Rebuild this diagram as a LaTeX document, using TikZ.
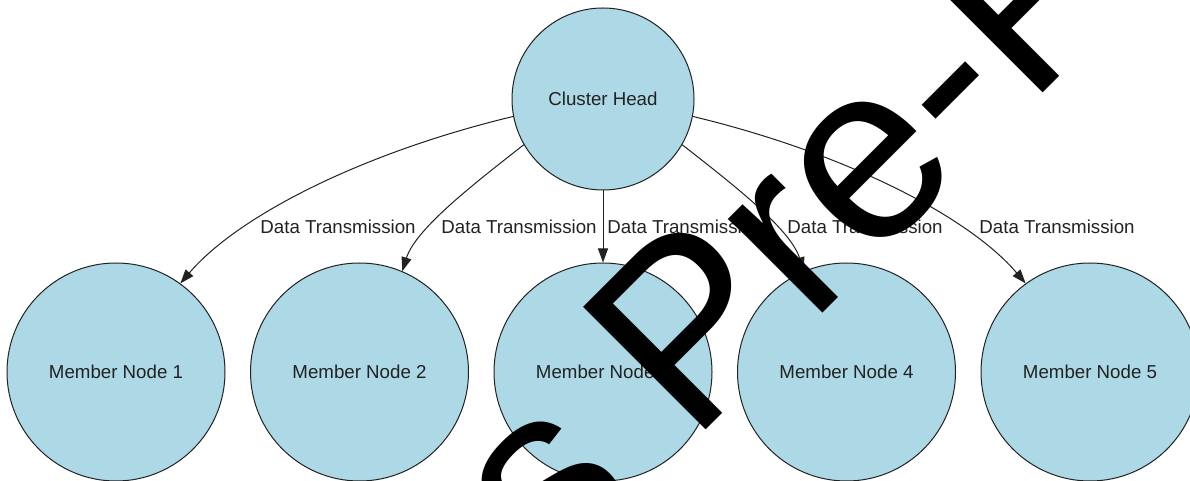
\documentclass[tikz,border=0pt]{standalone}
\usepackage{fontspec}
\setmainfont{Liberation Sans}
\usetikzlibrary{arrows.meta}
\definecolor{nodeblue}{HTML}{ADD8E6}
\definecolor{ink}{HTML}{222222}
\begin{document}
\begin{tikzpicture}[x=1pt,y=1pt,
  member/.style={circle, draw=ink, line width=1pt, fill=nodeblue,
    minimum size=218pt, inner sep=0pt,
    font=\fontsize{18.7}{22}\selectfont, text=ink},
  head/.style={member, minimum size=182pt},
  flow/.style={draw=ink, line width=1pt, -{Triangle[length=14pt,width=10pt]}},
  lbl/.style={inner sep=0pt, font=\fontsize{18.7}{22}\selectfont, text=ink},
  stamp/.style={rotate=45, anchor=base west, inner sep=0pt,
    font=\fontsize{252}{252}\selectfont, text=black}]
\useasboundingbox (0,0) rectangle (1190,481);
\clip (0,0) rectangle (1190,481);
\fill[white] (0,0) rectangle (1190,481);

% cluster head and its members
\node[head] (ch) at (603,382) {Cluster Head};
\node[member] (m1) at (116,109) {Member Node 1};
\node[member] (m2) at (359.5,109) {Member Node 2};
\node[member] (m3) at (603,109) {Member Node 3};
\node[member] (m4) at (846.5,109) {Member Node 4};
\node[member] (m5) at (1090,109) {Member Node 5};

% transmission links
\draw[flow] (ch.191) .. controls +(-150,-36) and +(58,68) .. (m1.54);
\draw[flow] (ch.210) .. controls +(-47,-37) and +(13.5,43) .. (m2.67);
\draw[flow] (ch.south) -- (m3.north);
\draw[flow] (ch.330) .. controls +(47,-37) and +(-13.5,43) .. (m4.113);
\draw[flow] (ch.349) .. controls +(150,-36) and +(-58,68) .. (m5.126);

% link labels
\node[lbl] (l1) at (338,254) {Data Transmission};
\node[lbl] (l2) at (519,254) {Data Transmission};
\node[lbl] (l3) at (685,254) {Data Transmission};
\node[lbl] (l4) at (865,254) {Data Transmission};
\node[lbl] (l5) at (1057,254) {Data Transmission};

% diagonal stamp across the page
\node[stamp] (wm) at (553,-102) {s Pre-P};
\end{tikzpicture}
\end{document}
